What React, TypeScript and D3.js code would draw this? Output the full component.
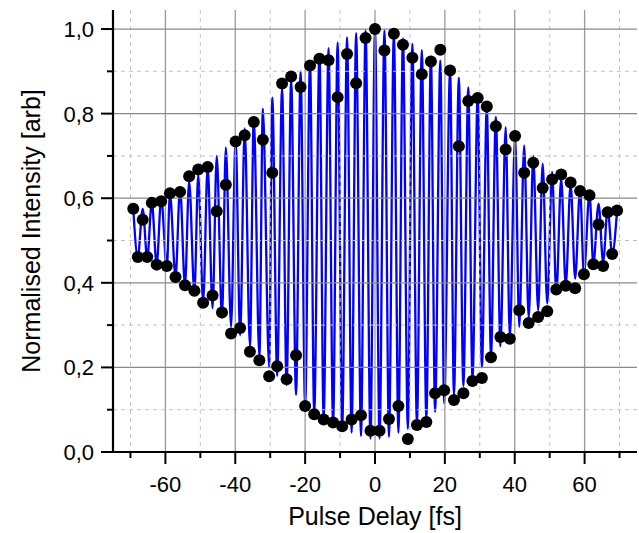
import React from "react";
import * as d3 from "d3";

// Pulse delay positions (fs) of the maxima (upper) and minima (lower)
const upperX = [-69.2, -66.5, -63.9, -61.2, -58.7, -55.8, -53.2, -50.6, -47.9, -45.3, -42.7, -39.9, -37.3, -34.7, -32.1, -29.4, -26.6, -24.0, -21.3, -18.6, -15.9, -13.3, -10.7, -8.0, -5.4, -2.7, 0, 2.7, 5.4, 8.0, 10.7, 13.4, 16.0, 18.7, 21.5, 24.0, 26.7, 29.4, 32.0, 34.6, 37.4, 40.1, 42.7, 45.3, 48.0, 50.7, 53.3, 56.0, 58.7, 61.4, 64.0, 66.6, 69.3];
const lowerX = [-67.9, -65.2, -62.5, -59.6, -57.1, -54.4, -51.7, -49.2, -46.5, -43.8, -41.2, -38.6, -35.8, -33.1, -30.3, -28.0, -25.3, -22.6, -20.0, -17.4, -14.7, -12.0, -9.4, -6.7, -4.0, -1.3, 1.3, 4.0, 6.7, 9.4, 12.0, 14.7, 17.2, 19.8, 22.6, 25.3, 27.9, 30.6, 33.2, 35.9, 38.6, 41.3, 44.0, 46.7, 49.3, 51.9, 54.6, 57.3, 59.8, 62.5, 65.3, 67.9];

// Measured points (black dots)
const upperDots = [0.575, 0.549, 0.589, 0.593, 0.612, 0.615, 0.652, 0.668, 0.674, 0.569, 0.632, 0.734, 0.749, 0.780, 0.738, 0.660, 0.871, 0.888, 0.863, 0.914, 0.930, 0.926, 0.839, 0.941, 0.872, 0.979, 1.0, 0.949, 0.989, 0.963, 0.932, 0.893, 0.923, 0.951, 0.902, 0.723, 0.830, 0.837, 0.817, 0.770, 0.715, 0.747, 0.660, 0.684, 0.624, 0.644, 0.656, 0.637, 0.617, 0.607, 0.538, 0.567, 0.571];
const lowerDots = [0.461, 0.461, 0.443, 0.440, 0.414, 0.394, 0.381, 0.353, 0.370, 0.330, 0.280, 0.293, 0.237, 0.217, 0.179, 0.203, 0.172, 0.229, 0.109, 0.089, 0.077, 0.070, 0.061, 0.077, 0.087, 0.050, 0.050, 0.078, 0.109, 0.031, 0.064, 0.071, 0.139, 0.146, 0.123, 0.139, 0.168, 0.175, 0.224, 0.272, 0.268, 0.335, 0.305, 0.319, 0.333, 0.384, 0.393, 0.387, 0.420, 0.444, 0.440, 0.468];

// Blue interferogram: peak and trough values
const bluePeaks = [0.575, 0.575, 0.59, 0.60, 0.61, 0.625, 0.64, 0.655, 0.675, 0.70, 0.72, 0.74, 0.765, 0.79, 0.812, 0.838, 0.86, 0.88, 0.90, 0.92, 0.94, 0.955, 0.968, 0.98, 0.99, 0.997, 1.0, 0.997, 0.99, 0.978, 0.965, 0.95, 0.935, 0.925, 0.902, 0.885, 0.862, 0.843, 0.815, 0.792, 0.768, 0.747, 0.725, 0.70, 0.682, 0.662, 0.646, 0.634, 0.622, 0.611, 0.587, 0.575, 0.571];
const blueTroughs = [0.461, 0.458, 0.443, 0.435, 0.414, 0.394, 0.378, 0.355, 0.34, 0.318, 0.296, 0.276, 0.25, 0.225, 0.20, 0.18, 0.158, 0.135, 0.11, 0.092, 0.077, 0.065, 0.055, 0.046, 0.038, 0.032, 0.032, 0.036, 0.046, 0.055, 0.066, 0.078, 0.095, 0.115, 0.135, 0.156, 0.172, 0.20, 0.229, 0.25, 0.27, 0.296, 0.316, 0.335, 0.351, 0.375, 0.394, 0.41, 0.42, 0.444, 0.449, 0.468];

const xMajor = [-60, -40, -20, 0, 20, 40, 60];
const xMinor = [-70, -50, -30, -10, 10, 30, 50, 70];
const yMajor = [0, 0.2, 0.4, 0.6, 0.8, 1.0];
const yMinor = [0.1, 0.3, 0.5, 0.7, 0.9];

const W = 639, H = 533;
const L = 113, R = 637, T = 10, B = 452;

export default function App() {
  const x = d3.scaleLinear().domain([-75, 75]).range([L, R]);
  const y = d3.scaleLinear().domain([0, 1.045]).range([B, T]);

  const bluePts: [number, number][] = [];
  upperX.forEach((ux, i) => {
    bluePts.push([ux, bluePeaks[i]]);
    if (i < lowerX.length) bluePts.push([lowerX[i], blueTroughs[i]]);
  });
  const line = d3
    .line<[number, number]>()
    .x((d) => x(d[0]))
    .y((d) => y(d[1]))
    .curve(d3.curveMonotoneX);

  const font = "'Liberation Sans', Arial, sans-serif";
  const fmt = (v: number) => d3.format(".1f")(v).replace(".", ",");

  return (
    <svg width={W} height={H} style={{ position: "absolute", left: 0, top: 0, background: "#fff" }} fontFamily={font}>
      {/* blue curve */}
      <path d={line(bluePts) || ""} fill="none" stroke="#0000ff" strokeWidth={2.3} />

      {/* grid */}
      {xMinor.map((v) => (
        <line key={"xm" + v} x1={x(v)} x2={x(v)} y1={T} y2={B} stroke="#c4c4c4" strokeWidth={1} strokeDasharray="4,4" />
      ))}
      {yMinor.map((v) => (
        <line key={"ym" + v} x1={L} x2={R} y1={y(v)} y2={y(v)} stroke="#c4c4c4" strokeWidth={1} strokeDasharray="4,4" />
      ))}
      {xMajor.map((v) => (
        <line key={"xM" + v} x1={x(v)} x2={x(v)} y1={T} y2={B} stroke="#999" strokeWidth={1.3} />
      ))}
      {yMajor.filter((v) => v > 0).map((v) => (
        <line key={"yM" + v} x1={L} x2={R} y1={y(v)} y2={y(v)} stroke="#888" strokeWidth={1.3} />
      ))}

      {/* dots */}
      {upperX.map((v, i) => (
        <circle key={"u" + i} cx={x(v)} cy={y(upperDots[i])} r={6} fill="#000" />
      ))}
      {lowerX.map((v, i) => (
        <circle key={"l" + i} cx={x(v)} cy={y(lowerDots[i])} r={6} fill="#000" />
      ))}

      {/* axes */}
      <line x1={L} x2={L} y1={T} y2={B + 1} stroke="#000" strokeWidth={2.2} />
      <line x1={L - 1} x2={R} y1={B} y2={B} stroke="#000" strokeWidth={2.2} />
      {yMajor.map((v) => (
        <g key={"yt" + v}>
          <line x1={L - 12} x2={L} y1={y(v)} y2={y(v)} stroke="#000" strokeWidth={2} />
          <text x={L - 19} y={y(v) + 8} fontSize={22} textAnchor="end" fill="#000">{fmt(v)}</text>
        </g>
      ))}
      {yMinor.map((v) => (
        <line key={"ytm" + v} x1={L - 6} x2={L} y1={y(v)} y2={y(v)} stroke="#000" strokeWidth={2} />
      ))}
      {xMajor.map((v) => (
        <g key={"xt" + v}>
          <line x1={x(v)} x2={x(v)} y1={B} y2={B + 12} stroke="#000" strokeWidth={2} />
          <text x={x(v)} y={B + 40} fontSize={22} textAnchor="middle" fill="#000">{v < 0 ? "-" + Math.abs(v) : String(v)}</text>
        </g>
      ))}
      {xMinor.map((v) => (
        <line key={"xtm" + v} x1={x(v)} x2={x(v)} y1={B} y2={B + 6} stroke="#000" strokeWidth={2} />
      ))}

      <text x={(L + R) / 2} y={525} fontSize={25} textAnchor="middle" fill="#000">Pulse Delay [fs]</text>
      <text transform={`translate(40, ${(T + B) / 2}) rotate(-90)`} fontSize={25} textAnchor="middle" fill="#000">Normalised Intensity [arb]</text>
    </svg>
  );
}
